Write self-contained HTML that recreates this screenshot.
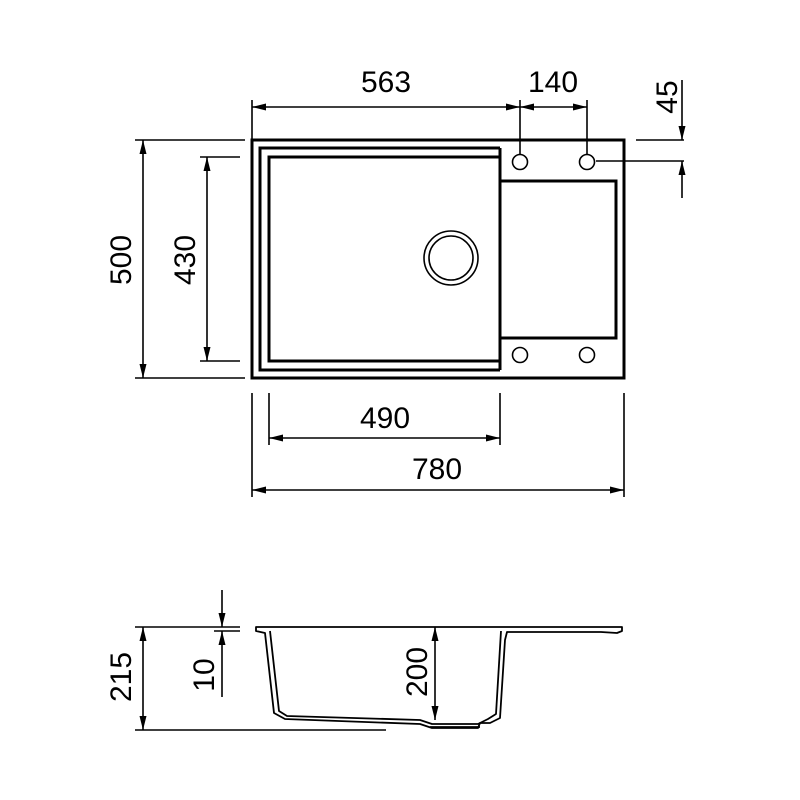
<!DOCTYPE html>
<html><head><style>body{margin:0;background:#fff}svg{display:block}</style></head><body>
<svg width="800" height="800" viewBox="0 0 800 800" xmlns="http://www.w3.org/2000/svg">
<defs>
<marker id="a" viewBox="0 0 14 7" refX="14" refY="3.5" markerWidth="14" markerHeight="7" orient="auto-start-reverse" markerUnits="userSpaceOnUse"><path d="M0,0L14,3.5L0,7z" fill="#000"/></marker>
</defs>
<g fill="none" stroke="#000">
<rect x="252" y="140" width="372" height="238" stroke-width="3"/>
<path d="M500,148H260V370H500" stroke-width="3"/>
<path d="M499,157H269V361H499" stroke-width="3"/>
<line x1="500" y1="148" x2="500" y2="370" stroke-width="3"/>
<path d="M500,181H616V338H500" stroke-width="3"/>
<circle cx="520" cy="162" r="7.5" stroke-width="1.6"/>
<circle cx="587" cy="162" r="7.5" stroke-width="1.6"/>
<circle cx="520" cy="355" r="7.5" stroke-width="1.6"/>
<circle cx="587" cy="355" r="7.5" stroke-width="1.6"/>
<circle cx="451" cy="258" r="27" stroke-width="1.6"/>
<circle cx="451" cy="258" r="22" stroke-width="1.6"/>

<g stroke-width="1.6">
<line x1="252" y1="100" x2="252" y2="140"/><line x1="520" y1="100" x2="520" y2="154"/><line x1="587" y1="100" x2="587" y2="154"/>
<line x1="252" y1="107" x2="520" y2="107" marker-start="url(#a)" marker-end="url(#a)"/>
<line x1="520" y1="107" x2="587" y2="107" marker-start="url(#a)" marker-end="url(#a)"/>
<line x1="636" y1="140" x2="684" y2="140"/><line x1="596" y1="161" x2="684" y2="161"/>
<line x1="682" y1="80" x2="682" y2="140" marker-end="url(#a)"/>
<line x1="682" y1="198" x2="682" y2="161" marker-end="url(#a)"/>
<line x1="135" y1="140" x2="245" y2="140"/><line x1="135" y1="378" x2="245" y2="378"/>
<line x1="143" y1="140" x2="143" y2="378" marker-start="url(#a)" marker-end="url(#a)"/>
<line x1="200" y1="157" x2="240" y2="157"/><line x1="200" y1="361" x2="240" y2="361"/>
<line x1="207" y1="157" x2="207" y2="361" marker-start="url(#a)" marker-end="url(#a)"/>
<line x1="269" y1="393" x2="269" y2="445"/><line x1="500" y1="393" x2="500" y2="445"/>
<line x1="269" y1="438" x2="500" y2="438" marker-start="url(#a)" marker-end="url(#a)"/>
<line x1="252" y1="393" x2="252" y2="497"/><line x1="624" y1="393" x2="624" y2="497"/>
<line x1="252" y1="490" x2="624" y2="490" marker-start="url(#a)" marker-end="url(#a)"/>

<line x1="135" y1="627" x2="240" y2="627"/><line x1="135" y1="730" x2="386" y2="730"/>
<line x1="143" y1="627" x2="143" y2="730" marker-start="url(#a)" marker-end="url(#a)"/>
<line x1="214" y1="631" x2="240" y2="631"/>
<line x1="222" y1="590" x2="222" y2="627" marker-end="url(#a)"/>
<line x1="222" y1="697" x2="222" y2="631" marker-end="url(#a)"/>
<line x1="435" y1="627" x2="435" y2="720" marker-start="url(#a)" marker-end="url(#a)"/>
</g>
<g stroke-width="1.8" stroke-linejoin="round">
<path d="M256,627H622V631L617,633L601,632H507L505,640L500,718L490,723H480L478,728H432L420,724L285,719L274,713L265,633L256,631Z"/>
<path d="M270,631L279,711L287,716L420,720L432,724H478L488,719L496,714L501,631"/>
<line x1="430" y1="727" x2="480" y2="727"/>
</g>
</g>
<g font-family="Liberation Sans, sans-serif" font-size="30" fill="#000" text-anchor="middle">
<text x="386" y="92">563</text>
<text x="553" y="92">140</text>
<text x="385" y="428">490</text>
<text x="437" y="479">780</text>
<text transform="translate(677,97) rotate(-90)">45</text>
<text transform="translate(131,260) rotate(-90)">500</text>
<text transform="translate(195,260) rotate(-90)">430</text>
<text transform="translate(131,677) rotate(-90)">215</text>
<text transform="translate(214,675) rotate(-90)">10</text>
<text transform="translate(427,672) rotate(-90)">200</text>
</g>
</svg>
</body></html>
